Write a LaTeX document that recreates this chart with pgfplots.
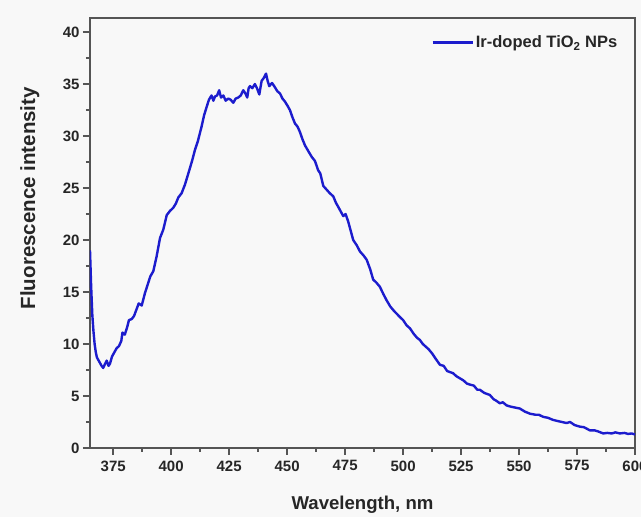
\documentclass[border=0pt]{standalone}
\usepackage{pgfplots}
\pgfplotsset{compat=1.18}
\usepackage{fontspec}
\setmainfont{Liberation Sans}
\definecolor{bg}{RGB}{248,248,248}
\definecolor{lineblue}{RGB}{28,28,205}
\definecolor{framec}{RGB}{85,85,85}
\begin{document}
\begin{tikzpicture}[x=1pt,y=1pt]
\fill[bg] (0,0) rectangle (641,517);
\useasboundingbox (0,0) rectangle (641,517);
\begin{axis}[
 at={(90pt,69pt)}, anchor=south west,
 scale only axis, width=545pt, height=430pt,
 xmin=365, xmax=600, ymin=0, ymax=41.35,
 axis background/.style={fill=bg},
 axis line style={framec, line width=1.5pt},
 xtick={375,400,...,600}, ytick={0,5,...,40},
 minor x tick num=1, minor y tick num=1,
 tick align=outside, xtick pos=bottom, ytick pos=left,
 major tick length=7pt, minor tick length=4pt,
 every tick/.style={framec, line width=1.5pt},
 tick label style={font=\fontsize{15}{17}\selectfont\bfseries, text=black!85},
 xticklabel style={yshift=-2pt},
 /pgf/number format/assume math mode=true,
 xlabel={Wavelength, nm}, ylabel={Fluorescence intensity},
 xlabel style={font=\fontsize{18.6}{21}\selectfont\bfseries, text=black!85,
   at={(axis description cs:0.5,-0.1419)}, anchor=base},
 ylabel style={font=\fontsize{20.5}{23}\selectfont\bfseries, text=black!85,
   at={(axis description cs:-0.1009,0.581)}, anchor=base},
 legend style={draw=none, fill=none, at={(0.977,0.968)}, anchor=north east,
   font=\fontsize{16.5}{19}\selectfont\bfseries, text=black!85},
 legend cell align=left,
 legend image code/.code={\draw[#1] (0pt,0pt) -- (40pt,0pt);},
]
\addplot[lineblue, line width=2.4pt, line join=round] coordinates {
(365,19.0)(365.5,15.5)(366,12.8)(366.5,11.2)(367,10.0)(367.5,9.2)(368,8.7)(369,8.3)(370,7.9)(370.7,7.7)
(371.5,8.1)(372.2,8.4)(373,7.9)(373.6,8.1)(374.5,8.8)(375.5,9.2)(376.5,9.6)(377.5,9.8)(378.5,10.3)(379,11.1)
(380,10.9)(381,11.6)(381.8,12.3)(383,12.4)(384,12.7)(385,13.3)(386,13.9)(387.3,13.7)(388.7,14.9)(390,15.8)
(391,16.5)(392.3,17.0)(393.7,18.4)(395.2,20.2)(396.6,21.0)(398.1,22.4)(399.5,22.8)(400.9,23.1)(402,23.5)(403.1,24.1)
(404.5,24.5)(405.9,25.3)(407.4,26.4)(409,27.6)(410.3,28.7)(411.5,29.5)(413.1,30.9)(414.2,32.0)(415.3,32.8)(416.3,33.5)
(417.4,33.9)(418.2,33.4)(418.9,33.8)(419.8,33.9)(420.7,34.4)(421.5,33.7)(422.5,33.9)(423.5,33.4)(424.6,33.6)(425.6,33.5)
(426.8,33.2)(427.8,33.6)(428.9,33.7)(430,33.9)(431.1,34.4)(432,34.1)(432.8,33.7)(433.4,34.6)(434.0,34.8)(435,34.6)
(436.1,35.0)(437,34.6)(438.0,34.0)(439.0,35.3)(440,35.6)(440.9,36.0)(441.6,35.3)(442.3,34.8)(443.5,35.1)(444.7,34.7)
(445.8,34.3)(446.9,34.1)(448,33.6)(449.1,33.3)(450.2,32.9)(451.2,32.5)(452.3,31.8)(453.4,31.2)(454.5,30.9)(455.5,30.4)
(456.6,29.7)(457.7,29.1)(459,28.6)(460.6,28.0)(462,27.6)(463.4,26.7)(464.3,26.4)(465.6,25.2)(466.8,24.9)(468.4,24.5)
(469.9,24.2)(471,23.6)(472.5,23.0)(474.2,22.3)(475.2,22.5)(476.3,21.8)(477.4,20.9)(478.5,20.0)(480,19.5)(481.4,18.9)
(483,18.5)(484.3,18.1)(485.8,17.2)(487.1,16.2)(488.5,15.9)(490,15.5)(491.5,14.8)(492.9,14.2)(494.5,13.6)(496,13.2)
(497.3,12.9)(498.6,12.6)(500,12.3)(501.5,11.8)(503,11.5)(504.5,11.0)(506,10.6)(507.2,10.4)(508.5,10.0)(510,9.7)
(511,9.5)(512.5,9.1)(514,8.6)(515.9,8.0)(517.5,7.9)(519,7.4)(520.2,7.3)(521.5,7.2)(523,6.9)(524.5,6.7)
(526,6.5)(527.5,6.2)(528.8,6.1)(530.5,6.0)(532,5.6)(533.1,5.6)(535,5.3)(537.4,5.1)(539,4.7)(540.5,4.5)
(541.7,4.3)(543,4.4)(544.6,4.1)(546,4.0)(548,3.9)(550.3,3.8)(552.5,3.5)(554.7,3.3)(557,3.2)(558.5,3.2)
(560.4,3.0)(562.5,2.9)(564.7,2.7)(566.5,2.6)(568.5,2.5)(570.5,2.4)(572,2.5)(574,2.2)(576.3,2.05)(578,2.0)
(580.5,1.7)(582.5,1.7)(584,1.6)(586.3,1.4)(588,1.45)(590,1.4)(591.5,1.5)(593.5,1.4)(595.5,1.45)(597,1.35)
(598.5,1.4)(600,1.3)
};
\addlegendentry{Ir-doped TiO\textsubscript{2} NPs}
\end{axis}
\end{tikzpicture}
\end{document}
